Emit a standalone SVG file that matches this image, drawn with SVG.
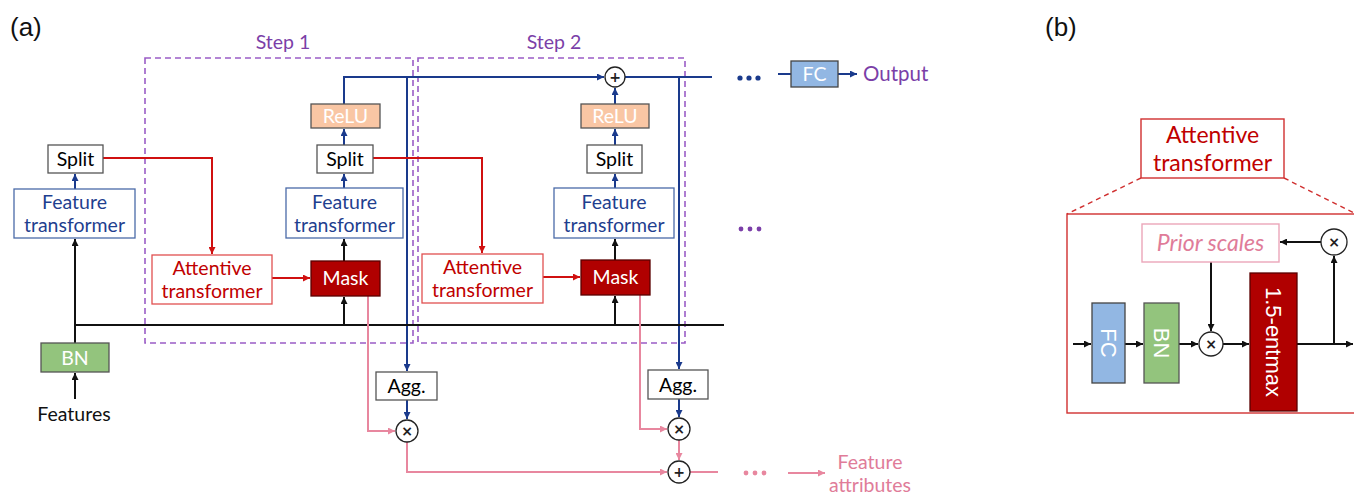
<svg xmlns="http://www.w3.org/2000/svg" width="1354" height="494" viewBox="0 0 1354 494">
<style>
text{font-family:Lato,"Noto Sans",sans-serif;font-size:19.5px;text-anchor:middle}
.lbl{font-family:"Liberation Sans",Arial,sans-serif;font-size:26px;text-anchor:start;fill:#111}
.step{fill:#7b3fa8}
.dash{fill:none;stroke:#9a5cc6;stroke-width:1.6;stroke-dasharray:6 4}
.ft{fill:#fff;stroke:#4a6aa8;stroke-width:1.3}
.ftt{fill:#1f3f8f}
.split{fill:#fff;stroke:#555;stroke-width:1.3}
.relu{fill:#f9c6a4;stroke:#555;stroke-width:1.3}
.att{fill:#fff;stroke:#e05050;stroke-width:1.3}
.attt{fill:#c00000}
.mask{fill:#b00000;stroke:#5a0000;stroke-width:1.3}
.wt{fill:#fff}
.bn{fill:#93c47d;stroke:#555;stroke-width:1.3}
.fc{fill:#92b7e3;stroke:#444;stroke-width:1.3}
.circ{fill:#fff;stroke:#222;stroke-width:1.3}
.op{font-family:"DejaVu Sans",sans-serif;font-size:14px;font-weight:bold;fill:#222}
.navy{fill:none;stroke:#1a3a8c;stroke-width:2}
.blk{fill:none;stroke:#111;stroke-width:2}
.red{fill:none;stroke:#d01010;stroke-width:2}
.pink{fill:none;stroke:#e8879f;stroke-width:2}
.pinkt{fill:#e07c99}
.rs{font-family:"Liberation Sans",Arial,sans-serif;font-size:22px}
</style>
<defs>
<marker id="an" viewBox="0 0 8 8" refX="8" refY="4" markerWidth="7" markerHeight="7" markerUnits="userSpaceOnUse" orient="auto"><path d="M0,0L8,4L0,8z" fill="#1a3a8c"/></marker>
<marker id="ab" viewBox="0 0 8 8" refX="8" refY="4" markerWidth="7" markerHeight="7" markerUnits="userSpaceOnUse" orient="auto"><path d="M0,0L8,4L0,8z" fill="#111"/></marker>
<marker id="ar" viewBox="0 0 8 8" refX="8" refY="4" markerWidth="7" markerHeight="7" markerUnits="userSpaceOnUse" orient="auto"><path d="M0,0L8,4L0,8z" fill="#d01010"/></marker>
<marker id="ap" viewBox="0 0 8 8" refX="8" refY="4" markerWidth="7" markerHeight="7" markerUnits="userSpaceOnUse" orient="auto"><path d="M0,0L8,4L0,8z" fill="#e8879f"/></marker>
</defs>
<rect width="1354" height="494" fill="#fff"/>

<text class="lbl" x="10" y="36">(a)</text>
<text class="lbl" x="1045" y="36">(b)</text>

<g id="step1-box"><rect class="dash" x="145" y="58" width="268" height="285"/><text class="step" x="283" y="49">Step 1</text></g>
<g id="step2-box"><rect class="dash" x="418" y="58" width="267" height="285"/><text class="step" x="554" y="49">Step 2</text></g>

<g id="connectors">
  <path class="navy" d="M75,189V174" marker-end="url(#an)"/>
  <path class="navy" d="M344,188V174" marker-end="url(#an)"/>
  <path class="navy" d="M344,145V129" marker-end="url(#an)"/>
  <path class="navy" d="M344,104V77H604" marker-end="url(#an)"/>
  <path class="navy" d="M625,77H712"/>
  <path class="navy" d="M407,77V371" marker-end="url(#an)"/>
  <path class="navy" d="M615,188V174" marker-end="url(#an)"/>
  <path class="navy" d="M615,145V129" marker-end="url(#an)"/>
  <path class="navy" d="M615,104V88" marker-end="url(#an)"/>
  <path class="navy" d="M679,77V369" marker-end="url(#an)"/>
  <path class="navy" d="M407,400V419" marker-end="url(#an)"/>
  <path class="navy" d="M679,399V417" marker-end="url(#an)"/>
  <path class="navy" d="M778,74H791"/>
  <path class="navy" d="M838,74H857" marker-end="url(#an)"/>
  <path class="blk" d="M75,399V373" marker-end="url(#ab)"/>
  <path class="blk" d="M75,343V239" marker-end="url(#ab)"/>
  <path class="blk" d="M75,325H724" stroke-width="2.4"/>
  <path class="blk" d="M344,325V297" marker-end="url(#ab)"/>
  <path class="blk" d="M615,325V296" marker-end="url(#ab)"/>
  <path class="blk" d="M344,261V239" marker-end="url(#ab)"/>
  <path class="blk" d="M615,260V239" marker-end="url(#ab)"/>
  <path class="red" d="M103,158H212V254" marker-end="url(#ar)"/>
  <path class="red" d="M373,158H482V253" marker-end="url(#ar)"/>
  <path class="red" d="M272,278H310" marker-end="url(#ar)"/>
  <path class="red" d="M543,277H580" marker-end="url(#ar)"/>
  <path class="pink" d="M368,296V431H395" marker-end="url(#ap)"/>
  <path class="pink" d="M407,442V472H667" marker-end="url(#ap)"/>
  <path class="pink" d="M640,295V429H667" marker-end="url(#ap)"/>
  <path class="pink" d="M679,440V460" marker-end="url(#ap)"/>
  <path class="pink" d="M690,472H718"/>
  <path class="pink" d="M788,473H825" marker-end="url(#ap)"/>
</g>

<g id="split0"><rect class="split" x="48" y="145" width="55" height="28"/><text x="75.5" y="166">Split</text></g>
<g id="ft0"><rect class="ft" x="14" y="189" width="121" height="49"/><text class="ftt" x="74.5" y="209">Feature</text><text class="ftt" x="74.5" y="232">transformer</text></g>
<g id="bn0"><rect class="bn" x="41" y="343" width="68" height="29"/><text class="wt" x="75" y="365">BN</text></g>
<text x="74" y="421" fill="#111">Features</text>

<g id="att1"><rect class="att" x="152" y="255" width="120" height="49"/><text class="attt" x="212" y="275">Attentive</text><text class="attt" x="212" y="298">transformer</text></g>
<g id="mask1"><rect class="mask" x="311" y="261" width="69" height="35"/><text class="wt" x="345.5" y="285">Mask</text></g>
<g id="ft1"><rect class="ft" x="286" y="188" width="117" height="50"/><text class="ftt" x="344.5" y="209">Feature</text><text class="ftt" x="344.5" y="232">transformer</text></g>
<g id="split1"><rect class="split" x="317" y="145" width="56" height="28"/><text x="345" y="166">Split</text></g>
<g id="relu1"><rect class="relu" x="311" y="104" width="69" height="24"/><text class="wt" x="345.5" y="123">ReLU</text></g>

<g id="att2"><rect class="att" x="422" y="254" width="121" height="49"/><text class="attt" x="482.5" y="274">Attentive</text><text class="attt" x="482.5" y="297">transformer</text></g>
<g id="mask2"><rect class="mask" x="581" y="260" width="69" height="35"/><text class="wt" x="615.5" y="284">Mask</text></g>
<g id="ft2"><rect class="ft" x="554" y="188" width="120" height="50"/><text class="ftt" x="614" y="209">Feature</text><text class="ftt" x="614" y="232">transformer</text></g>
<g id="split2"><rect class="split" x="587" y="145" width="55" height="28"/><text x="614.5" y="166">Split</text></g>
<g id="relu2"><rect class="relu" x="581" y="104" width="68" height="24"/><text class="wt" x="615" y="123">ReLU</text></g>

<g id="sum-out"><circle class="circ" cx="615" cy="77" r="10"/><text class="op" x="615" y="82">+</text></g>
<g id="agg1"><rect class="split" x="376" y="372" width="61" height="28"/><text x="406.5" y="393">Agg.</text></g>
<g id="agg2"><rect class="split" x="648" y="370" width="60" height="29"/><text x="678" y="392">Agg.</text></g>
<g id="mul1"><circle class="circ" cx="407" cy="431" r="11"/><text class="op" x="407" y="436">×</text></g>
<g id="mul2"><circle class="circ" cx="679" cy="429" r="11"/><text class="op" x="679" y="434">×</text></g>
<g id="sum-attr"><circle class="circ" cx="679" cy="472" r="11"/><text class="op" x="679" y="477">+</text></g>

<g id="dots-out" fill="#1a3a8c"><circle cx="740" cy="78" r="2.6"/><circle cx="749" cy="78" r="2.6"/><circle cx="758" cy="78" r="2.6"/></g>
<g id="dots-mid" fill="#7b3fa8"><circle cx="741" cy="229" r="2.4"/><circle cx="750" cy="229" r="2.4"/><circle cx="759" cy="229" r="2.4"/></g>
<g id="dots-attr" fill="#e8879f"><circle cx="746" cy="473" r="2.4"/><circle cx="755" cy="473" r="2.4"/><circle cx="764" cy="473" r="2.4"/></g>

<g id="fc-out"><rect class="fc" x="791" y="61" width="47" height="26"/><text class="wt" x="814.5" y="81">FC</text></g>
<text x="863" y="81" fill="#7b3fa8" style="text-anchor:start;font-size:20.5px">Output</text>
<g id="attr-label"><text class="pinkt" x="870" y="469">Feature</text><text class="pinkt" x="870" y="492">attributes</text></g>

<g id="b-zoom-lines"><path d="M1141,178L1067,214M1284,178L1356,214" fill="none" stroke="#d03030" stroke-width="1.4" stroke-dasharray="5 4"/></g>
<g id="b-title"><rect x="1141" y="119" width="143" height="59" fill="#fff" stroke="#d03030" stroke-width="1.4"/><text class="attt" x="1212.5" y="143" style="font-size:23px">Attentive</text><text class="attt" x="1212.5" y="171" style="font-size:23px">transformer</text></g>
<g id="b-frame"><rect x="1067" y="214" width="300" height="199" fill="none" stroke="#d03030" stroke-width="1.4"/></g>
<g id="b-connectors">
  <path class="blk" d="M1073,344H1091" marker-end="url(#ab)"/>
  <path class="blk" d="M1125,344H1143" marker-end="url(#ab)"/>
  <path class="blk" d="M1179,344H1198" marker-end="url(#ab)"/>
  <path class="blk" d="M1223,344H1249" marker-end="url(#ab)"/>
  <path class="blk" d="M1297,344H1353" marker-end="url(#ab)"/>
  <path class="blk" d="M1334,344V256" marker-end="url(#ab)"/>
  <path class="blk" d="M1321,242H1280" marker-end="url(#ab)"/>
  <path class="blk" d="M1211,262V331" marker-end="url(#ab)"/>
</g>
<g id="b-prior"><rect x="1142" y="224" width="137" height="38" fill="#fff" stroke="#eba6b9" stroke-width="1.4"/><text x="1210.5" y="251" style="font-size:23px;font-style:italic" class="pinkt">Prior scales</text></g>
<g id="b-fc"><rect class="fc" x="1092" y="303" width="33" height="80"/><text class="wt rs" transform="translate(1108.5,343) rotate(90)" y="8">FC</text></g>
<g id="b-bn"><rect class="bn" x="1144" y="303" width="35" height="80"/><text class="wt rs" transform="translate(1161.5,343) rotate(90)" y="8">BN</text></g>
<g id="b-mul"><circle class="circ" cx="1211" cy="344" r="12"/><text class="op" x="1211" y="349">×</text></g>
<g id="b-entmax"><rect class="mask" x="1250" y="273" width="47" height="138"/><text class="wt rs" transform="translate(1273.5,342) rotate(90)" y="8">1.5-entmax</text></g>
<g id="b-mul2"><circle class="circ" cx="1334" cy="242" r="13"/><text class="op" x="1334" y="247">×</text></g>
</svg>
